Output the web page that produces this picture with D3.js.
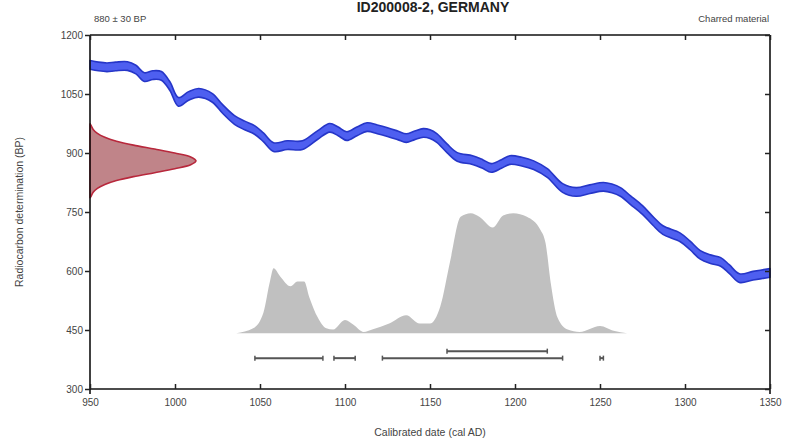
<!DOCTYPE html>
<html>
<head>
<meta charset="utf-8">
<script src="https://cdn.jsdelivr.net/npm/d3@7"></script>
<style>
  html, body { margin: 0; padding: 0; background: #fff; }
  svg { display: block; font-family: "Liberation Sans", Arial, sans-serif; }
</style>
</head>
<body>
<svg id="chart" width="790" height="442"></svg>
<script>
// ---- data ----
const titleText = "ID200008-2, GERMANY";
const labelLeft = "880 \u00b1 30 BP";
const labelRight = "Charred material";
const xTicks = [950, 1000, 1050, 1100, 1150, 1200, 1250, 1300, 1350];
const yTicks = [300, 450, 600, 750, 900, 1050, 1200];

// calibration curve (cal AD, BP)
const calYears = [950,955,960,965,972,977,982,987,992,997,1002,1008,1014,1022,1028,1035,1041,1047,1052,1058,1066,1075,1084,1091,1096,1101,1107,1113,1119,1125,1131,1136,1141,1146,1150,1154,1160,1166,1175,1181,1186,1192,1197,1204,1211,1219,1228,1236,1244,1252,1257,1262,1268,1275,1281,1287,1297,1303,1309,1315,1321,1326,1332,1340,1350];
const calBP    = [1124,1120,1118,1120,1121,1112,1093,1098,1096,1070,1030,1045,1053,1040,1012,984,970,958,940,915,920,920,946,964,955,943,955,966,960,953,945,938,945,951,948,938,912,890,882,872,862,872,882,878,869,849,811,801,808,814,810,801,780,755,728,704,686,665,641,630,623,605,582,588,595];
const calSigma = 11;

// radiocarbon measurement distribution (BP, relative density)
const rcBP      = [975,970,960,950,940,930,920,910,900,890,880,870,860,850,840,830,820,810,800,790,785];
const rcDensity = [0.0,0.01,0.03,0.07,0.14,0.25,0.41,0.61,0.80,0.95,1.0,0.95,0.80,0.61,0.41,0.25,0.14,0.07,0.03,0.01,0.0];

// calibrated date distribution (cal AD, relative probability)
const postYears = [1036,1046,1052,1056,1058,1062,1068,1072,1076,1079,1084,1089,1093,1100,1105,1111,1116,1126,1136,1144,1150,1156,1162,1168,1174,1179,1187,1193,1199,1207,1215,1218,1221,1225,1231,1238,1250,1258,1266];
const postProb  = [0,0.04,0.17,0.44,0.54,0.47,0.39,0.43,0.43,0.30,0.13,0.04,0.03,0.11,0.07,0.01,0.03,0.08,0.15,0.08,0.08,0.22,0.61,0.97,1.0,0.97,0.88,0.98,1.0,0.97,0.86,0.75,0.42,0.13,0.03,0.01,0.06,0.02,0];

// hpd ranges
const ranges68 = [[1160, 1219]];
const ranges95 = [[1047, 1087], [1093.5, 1106], [1122, 1228], [1250, 1252]];

// ---- layout ----
const svg = d3.select("#chart");
const m = {left: 90, right: 20, top: 35, bottom: 53};
const W = 790, H = 442;
const x = d3.scaleLinear().domain([950, 1350]).range([m.left, W - m.right]);
const y = d3.scaleLinear().domain([300, 1200]).range([H - m.bottom, m.top]);

const textColor = "#444";

// title
svg.append("text").attr("x", 433).attr("y", 12).attr("text-anchor", "middle")
  .attr("font-size", 14).attr("font-weight", "bold").attr("fill", "#222").text(titleText);
svg.append("text").attr("x", x(950) + 4).attr("y", 22).attr("font-size", 9.5).attr("fill", textColor).text(labelLeft);
svg.append("text").attr("x", x(1350) - 1).attr("y", 22).attr("text-anchor", "end").attr("font-size", 9.5).attr("fill", textColor).text(labelRight);

// calibrated distribution
const postBase = 442;
const pScale = d3.scaleLinear().domain([0, 1]).range([y(postBase), y(postBase) - 120]);
svg.append("path")
  .datum(postYears.map((d, i) => [d, postProb[i]]))
  .attr("d", d3.area().x(d => x(d[0])).y0(pScale(0)).y1(d => pScale(d[1])).curve(d3.curveMonotoneX))
  .attr("fill", "#c0c0c0");

// ranges
function drawRanges(ranges, yy) {
  ranges.forEach(r => {
    const g = svg.append("g").attr("stroke", "#555").attr("stroke-width", 2);
    g.append("line").attr("x1", x(r[0])).attr("x2", x(r[1])).attr("y1", yy).attr("y2", yy);
    g.append("line").attr("x1", x(r[0])).attr("x2", x(r[0])).attr("y1", yy - 2.5).attr("y2", yy + 2.5).attr("stroke-width", 1.5);
    g.append("line").attr("x1", x(r[1])).attr("x2", x(r[1])).attr("y1", yy - 2.5).attr("y2", yy + 2.5).attr("stroke-width", 1.5);
  });
}
drawRanges(ranges68, pScale(0) + 18);
drawRanges(ranges95, pScale(0) + 25);

// calibration curve band
const cal = calYears.map((d, i) => [d, calBP[i]]);
svg.append("path").datum(cal)
  .attr("d", d3.area().x(d => x(d[0])).y0(d => y(d[1] - calSigma)).y1(d => y(d[1] + calSigma)).curve(d3.curveCatmullRom))
  .attr("fill", "#4e5ff0").attr("stroke", "#2636c8").attr("stroke-width", 1.6).attr("stroke-linejoin", "round");

// radiocarbon distribution
const dScale = d3.scaleLinear().domain([0, 1]).range([x(950), x(950) + 106]);
svg.append("path")
  .datum(rcBP.map((d, i) => [d, rcDensity[i]]))
  .attr("d", d3.area().y(d => y(d[0])).x0(dScale(0)).x1(d => dScale(d[1])).curve(d3.curveCatmullRom))
  .attr("fill", "#c08489").attr("stroke", "#b8283c").attr("stroke-width", 1.6);

// frame
const frame = svg.append("g").attr("stroke", "#111").attr("stroke-width", 1.6).attr("fill", "none");
frame.append("line").attr("x1", x(950)).attr("x2", x(1350)).attr("y1", y(1200)).attr("y2", y(1200));
frame.append("line").attr("x1", x(950)).attr("x2", x(1350)).attr("y1", y(300)).attr("y2", y(300));
frame.append("line").attr("x1", x(950)).attr("x2", x(950)).attr("y1", y(1200)).attr("y2", y(300) + 5);
frame.append("line").attr("x1", x(1350)).attr("x2", x(1350)).attr("y1", y(1200)).attr("y2", y(300) + 5);

// axes
const xAxis = svg.append("g").attr("transform", `translate(0,${y(300)})`)
  .call(d3.axisBottom(x).tickValues(xTicks).tickSize(-5).tickPadding(10).tickFormat(d3.format("d")));
const xTop = svg.append("g").attr("transform", `translate(0,${y(1200)})`)
  .call(d3.axisTop(x).tickValues(xTicks).tickSize(-5).tickFormat(""));
const yAxis = svg.append("g").attr("transform", `translate(${x(950)},0)`)
  .call(d3.axisLeft(y).tickValues(yTicks).tickSize(5).tickPadding(2).tickFormat(d3.format("d")));
const yRight = svg.append("g").attr("transform", `translate(${x(1350)},0)`)
  .call(d3.axisRight(y).tickValues(yTicks).tickSize(-5).tickFormat(""));
[xAxis, xTop, yAxis, yRight].forEach(a => {
  a.select(".domain").remove();
  a.selectAll(".tick line").attr("stroke", "#222").attr("stroke-width", 1.5);
  a.selectAll("text").attr("fill", textColor).attr("font-size", 10).attr("font-family", "'Liberation Sans', Arial, sans-serif");
});

// axis titles
svg.append("text").attr("x", (x(950) + x(1350)) / 2).attr("y", 436).attr("text-anchor", "middle")
  .attr("font-size", 10.5).attr("fill", textColor).text("Calibrated date (cal AD)");
svg.append("text").attr("transform", `translate(23,${(y(300) + y(1200)) / 2}) rotate(-90)`).attr("text-anchor", "middle")
  .attr("font-size", 10.5).attr("fill", textColor).text("Radiocarbon determination (BP)");
</script>
</body>
</html>
